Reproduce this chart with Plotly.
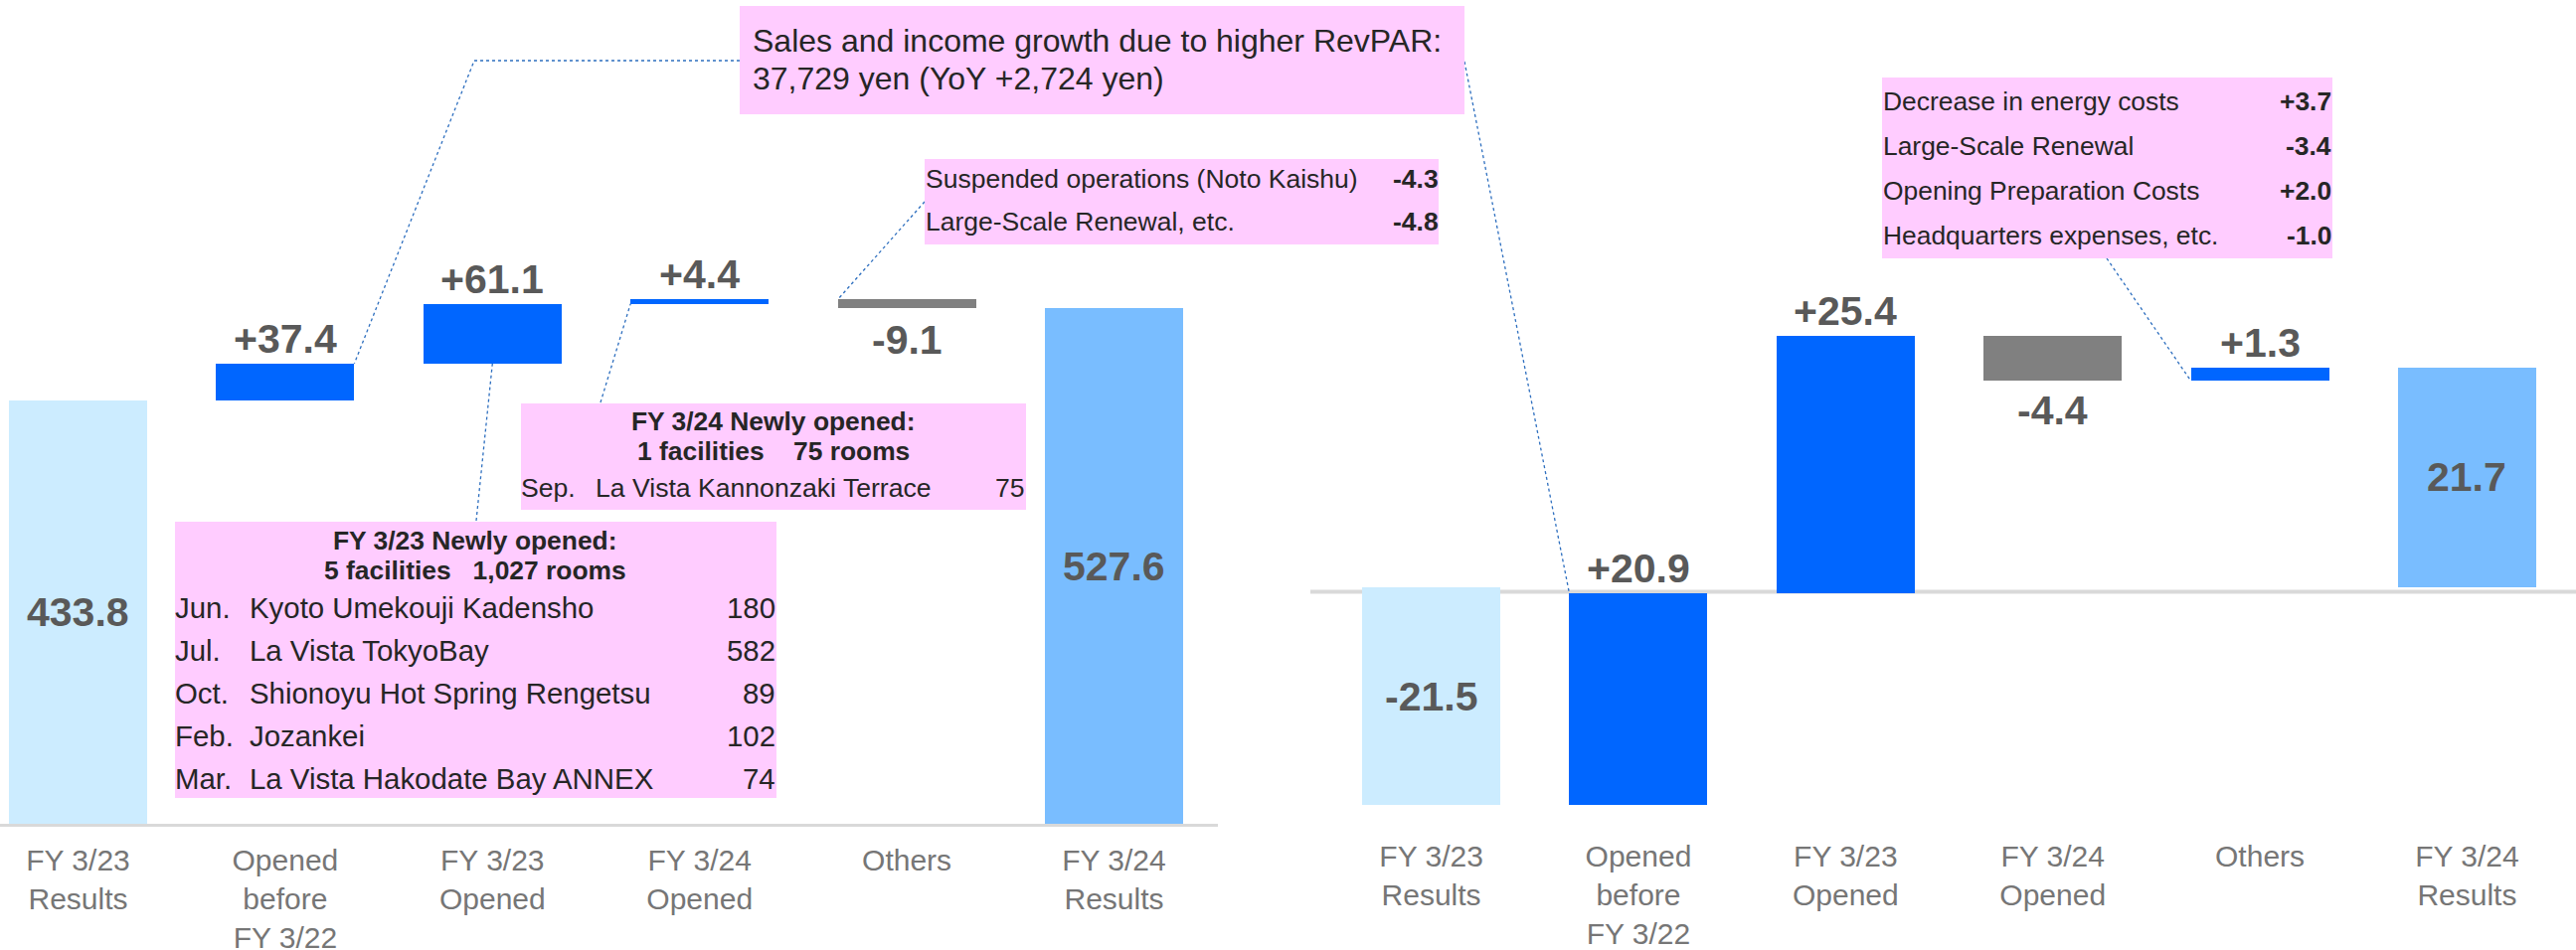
import plotly.graph_objects as go

W, H = 2591, 956
FONT = "Liberation Sans, Arial, sans-serif"

# ---------------- data ----------------
categories = ["FY 3/23<br>Results", "Opened<br>before<br>FY 3/22", "FY 3/23<br>Opened",
              "FY 3/24<br>Opened", "Others", "FY 3/24<br>Results"]

sales_start = 433.8
sales_changes = [37.4, 61.1, 4.4, -9.1]
sales_end = 527.6

income_start = -21.5
income_changes = [20.9, 25.4, -4.4, 1.3]
income_end = 21.7

revpar_note = ["Sales and income growth due to higher RevPAR:", "37,729 yen (YoY +2,724 yen)"]
others_items = ["Suspended operations (Noto Kaishu)", "Large-Scale Renewal, etc."]
others_values = ["-4.3", "-4.8"]
fy24_title = ["FY 3/24 Newly opened:", "1 facilities\u00a0\u00a0\u00a0 75 rooms"]
fy24_months = ["Sep."]
fy24_names = ["La Vista Kannonzaki Terrace"]
fy24_rooms = ["75"]
fy23_title = ["FY 3/23 Newly opened:", "5 facilities\u00a0\u00a0 1,027 rooms"]
fy23_months = ["Jun.", "Jul.", "Oct.", "Feb.", "Mar."]
fy23_names = ["Kyoto Umekouji Kadensho", "La Vista TokyoBay", "Shionoyu Hot Spring Rengetsu",
              "Jozankei", "La Vista Hakodate Bay ANNEX"]
fy23_rooms = ["180", "582", "89", "102", "74"]
cost_items = ["Decrease in energy costs", "Large-Scale Renewal", "Opening Preparation Costs",
              "Headquarters expenses, etc."]
cost_values = ["+3.7", "-3.4", "+2.0", "-1.0"]

# ---------------- styles ----------------
C_START = "#CCECFF"
C_UP = "#0066FF"
C_DOWN = "#808080"
C_END = "#79BDFF"
C_BOX = "#FFCCFF"
C_TXT = "#262626"
C_VAL = "#595959"
C_TICK = "#767676"
C_CONN = "#2E6FBF"
BAR_W = 0.667

# axis geometry (pixel domains)
L_XDOM = [0, 1225 / W]
L_XRNG = [-0.3767, 5.5015]
L_YDOM = [1 - 829 / H, 1]
L_YRNG = [0, 829 / 0.983]
R_XDOM = [1318 / W, 1]
R_XRNG = [-0.5836, 5.526]
R_YDOM = [1 - 830 / H, 1]
R_YRNG = [-(830 - 591) / 10.19, 591 / 10.19]


def waterfall(start, changes, end):
    bases, heights, colors = [0], [start], [C_START]
    cum = start
    for c in changes:
        bases.append(cum)
        heights.append(c)
        colors.append(C_UP if c >= 0 else C_DOWN)
        cum += c
    bases.append(0)
    heights.append(end)
    colors.append(C_END)
    return bases, heights, colors


def to_px(xv, yv, xdom, xrng, ydom, yrng):
    px = (xdom[0] + (xv - xrng[0]) / (xrng[1] - xrng[0]) * (xdom[1] - xdom[0])) * W
    py = (1 - (ydom[0] + (yv - yrng[0]) / (yrng[1] - yrng[0]) * (ydom[1] - ydom[0]))) * H
    return px, py


fig = go.Figure()
annotations = []
shapes = []

charts = [
    (sales_start, sales_changes, sales_end, "x", "y", -7),
    (income_start, income_changes, income_end, "x2", "y2", -5),
]
geoms = {}
for start, changes, end, xa, ya, neg_shift in charts:
    bases, heights, colors = waterfall(start, changes, end)
    xs = list(range(len(categories)))
    fig.add_trace(go.Bar(x=xs, y=heights, base=bases, width=BAR_W,
                         marker=dict(color=colors, line=dict(width=0)),
                         xaxis=xa, yaxis=ya, hoverinfo="skip", showlegend=False))
    geoms[xa] = (bases, heights)
    for i, (b, h) in enumerate(zip(bases, heights)):
        if i == 0 or i == len(bases) - 1:
            annotations.append(dict(xref=xa, yref=ya, x=i, y=b + h / 2, text=f"<b>{h:.1f}</b>",
                                    showarrow=False, yanchor="middle",
                                    font=dict(family=FONT, size=41, color=C_VAL)))
        elif h >= 0:
            annotations.append(dict(xref=xa, yref=ya, x=i, y=b + h, text=f"<b>+{h:.1f}</b>",
                                    showarrow=False, yanchor="bottom",
                                    font=dict(family=FONT, size=41, color=C_VAL)))
        else:
            annotations.append(dict(xref=xa, yref=ya, x=i, y=b + h, text=f"<b>{h:.1f}</b>",
                                    showarrow=False, yanchor="top", yshift=neg_shift,
                                    font=dict(family=FONT, size=41, color=C_VAL)))


def txt(x, y, s, size, anchor="left", bold=False, color=C_TXT):
    annotations.append(dict(xref="paper", yref="paper", x=x / W, y=1 - y / H,
                            text=f"<b>{s}</b>" if bold else s, showarrow=False,
                            xanchor=anchor, yanchor="middle", borderpad=0, borderwidth=0,
                            font=dict(family=FONT, size=size, color=color)))


def box(x0, y0, x1, y1):
    shapes.append(dict(type="rect", xref="paper", yref="paper", x0=x0 / W, x1=x1 / W,
                       y0=1 - y1 / H, y1=1 - y0 / H, fillcolor=C_BOX, line=dict(width=0),
                       layer="above"))


def conn(points):
    path = "M " + " L ".join(f"{px / W},{1 - py / H}" for px, py in points)
    shapes.append(dict(type="path", xref="paper", yref="paper", path=path,
                       line=dict(color=C_CONN, width=1.3, dash="dot"), layer="above"))


# bar corner pixels from data
lb, lh = geoms["x"]
rb, rh = geoms["x2"]
L = lambda xv, yv: to_px(xv, yv, L_XDOM, L_XRNG, L_YDOM, L_YRNG)
R = lambda xv, yv: to_px(xv, yv, R_XDOM, R_XRNG, R_YDOM, R_YRNG)
hw = BAR_W / 2

# connectors
conn([(744, 61), (477, 61), L(1 + hw, lb[1] + lh[1])])
conn([(1473, 62), R(1 - hw, rb[1] + rh[1])])
conn([(930, 203), L(4 - hw, lb[4])])
conn([(604, 405), L(3 - hw, lb[3])])
conn([L(2, lb[2]), (479, 524)])
conn([(2119, 260), R(4 - hw, rb[4])])

# box 1: RevPAR
box(744, 6, 1473, 115)
txt(757, 41, revpar_note[0], 32)
txt(757, 79, revpar_note[1], 32)

# box 2: others (sales)
box(930, 160, 1447, 246)
for k, (it, v) in enumerate(zip(others_items, others_values)):
    yy = 180 + 43 * k
    txt(931, yy, it, 26.5)
    txt(1447, yy, v, 26.5, anchor="right", bold=True)

# box 3: FY 3/24 newly opened
box(524, 406, 1032, 513)
txt(778, 424, fy24_title[0], 26.4, anchor="center", bold=True)
txt(778, 454, fy24_title[1], 26.4, anchor="center", bold=True)
for k, (m, n, r) in enumerate(zip(fy24_months, fy24_names, fy24_rooms)):
    yy = 491 + 43 * k
    txt(524, yy, m, 26.6)
    txt(599, yy, n, 26.6)
    txt(1031, yy, r, 26.6, anchor="right")

# box 4: FY 3/23 newly opened
box(176, 525, 781, 803)
txt(478, 544, fy23_title[0], 26.4, anchor="center", bold=True)
txt(478, 574, fy23_title[1], 26.4, anchor="center", bold=True)
for k, (m, n, r) in enumerate(zip(fy23_months, fy23_names, fy23_rooms)):
    yy = 611 + 43 * k
    txt(176, yy, m, 29.4)
    txt(251, yy, n, 29.4)
    txt(780, yy, r, 29.4, anchor="right")

# box 5: income others
box(1893, 78, 2346, 260)
for k, (it, v) in enumerate(zip(cost_items, cost_values)):
    yy = 102 + 45 * k
    txt(1894, yy, it, 26.4)
    txt(2345, yy, v, 26.4, anchor="right", bold=True)

# right chart zero line
shapes.append(dict(type="line", xref="paper", yref="paper", x0=1318 / W, x1=1,
                   y0=1 - 595.5 / H, y1=1 - 595.5 / H, line=dict(color="#D9D9D9", width=4),
                   layer="below"))

tickfont = dict(family=FONT, size=30, color=C_TICK)
fig.update_layout(
    width=W, height=H, margin=dict(l=0, r=0, t=0, b=0, autoexpand=False),
    paper_bgcolor="white", plot_bgcolor="white", showlegend=False, bargap=0,
    xaxis=dict(domain=L_XDOM, range=L_XRNG, anchor="y", tickvals=list(range(6)), ticktext=categories,
               showline=True, linecolor="#D9D9D9", linewidth=3, ticks="", showgrid=False,
               zeroline=False, tickfont=tickfont, fixedrange=True, automargin=False,
               ticklabelstandoff=8),
    yaxis=dict(domain=L_YDOM, range=L_YRNG, anchor="x", visible=False, fixedrange=True,
               automargin=False),
    xaxis2=dict(domain=R_XDOM, range=R_XRNG, anchor="y2", tickvals=list(range(6)), ticktext=categories,
                showline=False, ticks="", showgrid=False, zeroline=False, tickfont=tickfont,
                fixedrange=True, automargin=False, ticklabelstandoff=11),
    yaxis2=dict(domain=R_YDOM, range=R_YRNG, anchor="x2", visible=False, fixedrange=True,
                automargin=False),
    annotations=annotations, shapes=shapes,
)

fig.write_html("out.html", config={"displayModeBar": False},
               post_script="document.body.style.margin='0';document.body.style.overflow='hidden';")
